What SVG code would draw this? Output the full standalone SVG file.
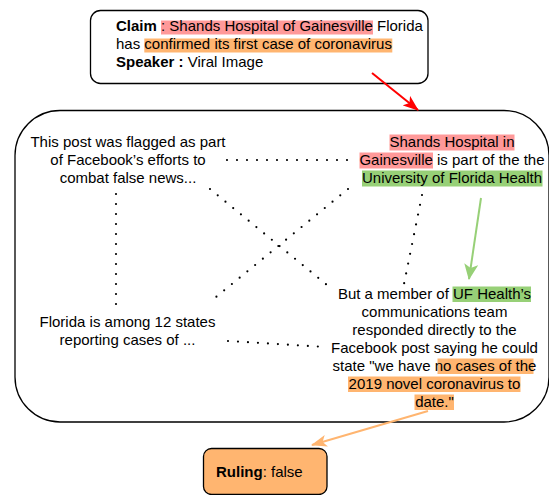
<svg xmlns="http://www.w3.org/2000/svg" width="549" height="495" viewBox="0 0 549 495">
  <style>
    .t { font-family: "Liberation Sans", Arial, Helvetica, sans-serif; font-size: 15px; fill: #000; }
    .b { font-weight: bold; }
    .m { text-anchor: middle; }
    .box { fill: #fff; stroke: #000; stroke-width: 1.3; }
    .dot { fill: none; stroke: #000; stroke-width: 2.2; stroke-dasharray: 0 10; stroke-linecap: round; }
    .hr { fill: #FF9999; }
    .ho { fill: #FFB570; }
    .hg { fill: #97D077; }
  </style>
  <defs>
    <marker id="arrRed" markerUnits="userSpaceOnUse" markerWidth="16" markerHeight="12" viewBox="0 0 16 12" refX="15" refY="6" orient="auto">
      <path d="M0,0 L16,6 L0,12 L4,6 z" fill="#FF0000"/>
    </marker>
    <marker id="arrGreen" markerUnits="userSpaceOnUse" markerWidth="16" markerHeight="14" viewBox="0 0 16 14" refX="15" refY="7" orient="auto">
      <path d="M0,0 L16,7 L0,14 L4,7 z" fill="#97D077"/>
    </marker>
    <marker id="arrOrange" markerUnits="userSpaceOnUse" markerWidth="16" markerHeight="12" viewBox="0 0 16 12" refX="15" refY="6" orient="auto">
      <path d="M0,0 L16,6 L0,12 L4,6 z" fill="#FFB570"/>
    </marker>
  </defs>

  <g id="claim">
    <rect class="box" x="90.5" y="10.5" width="337.5" height="73" rx="10"/>
    <rect class="hr" x="161" y="20.5" width="212" height="14"/>
    <rect class="ho" x="144.3" y="38.5" width="248" height="14"/>
    <text class="t" x="116" y="30.5"><tspan class="b">Claim</tspan> : Shands Hospital of Gainesville Florida</text>
    <text class="t" x="116" y="48.5">has confirmed its first case of coronavirus</text>
    <text class="t" x="116" y="66.5"><tspan class="b">Speaker :</tspan> Viral Image</text>
  </g>

  <g id="evidence">
    <rect class="box" x="15" y="110.5" width="534" height="311.5" rx="45"/>
  </g>

  <g id="n-facebook">
    <text class="t m" x="128" y="147">This post was flagged as part</text>
    <text class="t m" x="128" y="165">of Facebook’s efforts to</text>
    <text class="t m" x="128" y="183">combat false news...</text>
  </g>

  <g id="n-shands">
    <rect class="hr" x="389.5" y="134.5" width="125" height="16"/>
    <rect class="hr" x="359.5" y="152.5" width="73.5" height="16"/>
    <rect class="hg" x="362" y="170.5" width="180.5" height="16"/>
    <text class="t m" x="452" y="147">Shands Hospital in</text>
    <text class="t m" x="452" y="165">Gainesville is part of the the</text>
    <text class="t m" x="452" y="183">University of Florida Health</text>
  </g>

  <g id="n-florida">
    <text class="t m" x="127.5" y="326.5">Florida is among 12 states</text>
    <text class="t m" x="127.5" y="344.5">reporting cases of ...</text>
  </g>

  <g id="n-ufhealth">
    <rect class="hg" x="452.5" y="286.5" width="78.5" height="15.5"/>
    <rect class="ho" x="437.5" y="358.5" width="96" height="15.5"/>
    <rect class="ho" x="348" y="376.5" width="172.5" height="15.5"/>
    <rect class="ho" x="414.5" y="394.5" width="39.5" height="15.5"/>
    <text class="t m" x="434.5" y="298.5">But a member of UF Health’s</text>
    <text class="t m" x="434.5" y="316.5">communications team</text>
    <text class="t m" x="434.5" y="334.5">responded directly to the</text>
    <text class="t m" x="434.5" y="352.5">Facebook post saying he could</text>
    <text class="t m" x="434.5" y="370.5">state "we have no cases of the</text>
    <text class="t m" x="434.5" y="388.5">2019 novel coronavirus to</text>
    <text class="t m" x="434.5" y="406.5">date."</text>
  </g>

  <g id="ruling">
    <rect x="203.5" y="448.5" width="123.5" height="46" rx="8" fill="#FFB570" stroke="#000" stroke-width="1.3"/>
    <text class="t" x="216" y="477"><tspan class="b">Ruling</tspan>: false</text>
  </g>

  <g id="connectors">
    <line class="dot" x1="227" y1="160" x2="351" y2="160"/>
    <line class="dot" x1="116" y1="194" x2="116" y2="305"/>
    <line class="dot" x1="210" y1="189" x2="327" y2="285"/>
    <line class="dot" x1="348" y1="189" x2="216" y2="297"/>
    <line class="dot" x1="422" y1="195" x2="404" y2="284"/>
    <line class="dot" x1="228" y1="341" x2="326" y2="347"/>
    <line x1="372" y1="73" x2="418" y2="110" stroke="#FF0000" stroke-width="2" marker-end="url(#arrRed)"/>
    <line x1="481" y1="198" x2="469" y2="279" stroke="#97D077" stroke-width="2" marker-end="url(#arrGreen)"/>
    <line x1="428" y1="411" x2="312" y2="445" stroke="#FFB570" stroke-width="2" marker-end="url(#arrOrange)"/>
  </g>
</svg>
